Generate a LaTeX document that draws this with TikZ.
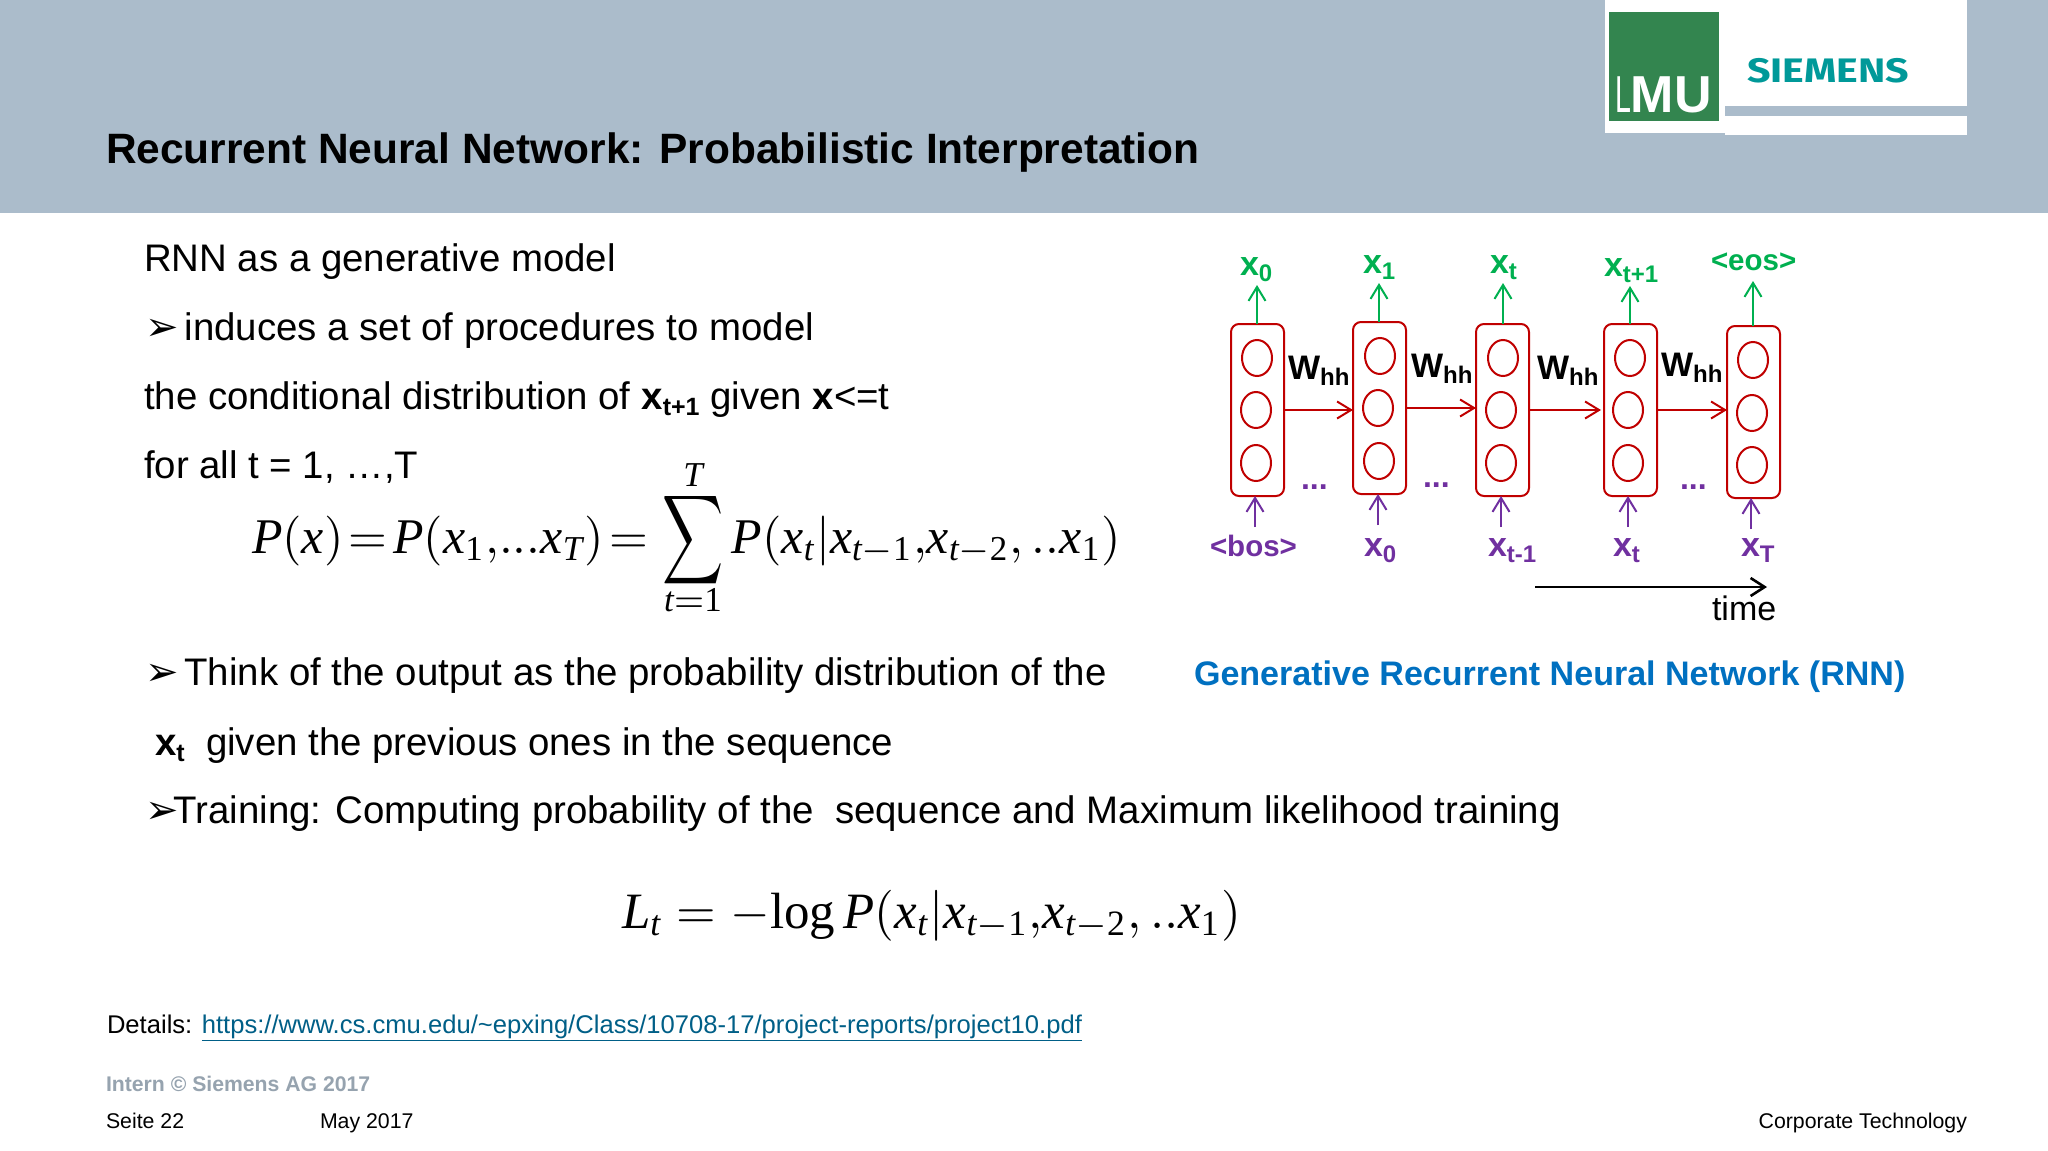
\documentclass[tikz,border=0pt]{standalone}
\usepackage{mathspec}
\setmainfont{Liberation Sans}
\setmathsfont(Latin,Digits)[Scale=1]{Liberation Serif}
\setmathrm{Liberation Serif}
\newfontfamily\djfont{DejaVu Sans}
\newfontfamily\logofont{Fira Sans}
\usepackage{graphicx}
\usetikzlibrary{arrows.meta,shapes.geometric}
\definecolor{bandc}{HTML}{ABBCCB}
\definecolor{redc}{HTML}{C00000}
\definecolor{greenc}{HTML}{00B050}
\definecolor{purc}{HTML}{7030A0}
\definecolor{logog}{HTML}{33854F}
\definecolor{siem}{HTML}{009999}
\definecolor{bluec}{HTML}{0070C0}
\definecolor{linkc}{HTML}{005F87}
\definecolor{grayc}{HTML}{96A3AF}
\newcommand{\fsz}[1]{\fontsize{#1}{#1}\selectfont}
\newcommand{\bsub}[2]{\textbf{#1}\raisebox{-6pt}{\fsz{24}\textbf{#2}}}
\newcommand{\bsubm}[2]{\textbf{#1}\raisebox{-6pt}{\fsz{25}\textbf{#2}}}
\newcommand{\arrb}{{\djfont\fsz{40}\bfseries ➢}}
\newcommand{\bigsum}{\mathop{\vcenter{\hbox{\scalebox{0.85}[1.25]{$\displaystyle\sum$}}}}\limits}
\tikzset{
  x=1pt,y=-1pt,
  txt/.style={anchor=base west,inner sep=0pt,outer sep=0pt},
  body/.style={txt,font=\fsz{38.4}},
  small/.style={txt,font=\fsz{21.3}},
  lab/.style={txt,font=\fsz{34}\bfseries},
  dotstyle/.style={txt,text=purc,font=\fsz{32}\bfseries},
  rnnbox/.style={draw=redc,line width=2pt,rounded corners=8pt,minimum width=53pt,minimum height=172pt,inner sep=0pt,outer sep=0pt},
  unit/.style={draw=redc,line width=2pt,ellipse,minimum width=30pt,minimum height=36pt,inner sep=0pt},
  barb/.style={-{Straight Barb[length=14pt,width=17pt,line width=2pt]}},
  redarr/.style={barb,draw=redc,line width=2pt},
  grnarr/.style={barb,draw=greenc,line width=2pt},
  purarr/.style={barb,draw=purc,line width=2pt},
}
\begin{document}
\begin{tikzpicture}
\useasboundingbox (0,0) rectangle (2048,1151);
\fill[white] (0,0) rectangle (2048,1151);
\fill[bandc] (0,0) rectangle (2048,213);
% logo panel
\fill[white] (1605,0) rectangle (1725,133);
\fill[white] (1725,0) rectangle (1967,106);
\fill[white] (1725,116) rectangle (1967,135);
\fill[logog] (1609,12) rectangle (1719,121);
\node[txt,text=white,font=\fsz{52}] (lmu) at (1615,112) {\scalebox{0.55}[1]{L}\textbf{MU}};
\node[txt,text=siem,font=\logofont\fsz{34}\bfseries] (siemens) at (1747,82) {\scalebox{1.21}[1]{SIEMENS}};
% title
\node[txt,font=\fsz{42.45}\bfseries] (title) at (106,163) {Recurrent Neural Network: Probabilistic Interpretation};
% left text
\node[body] (t1) at (144,271) {RNN as a generative model};
\node[body] (t2) at (145,340) {\arrb\hspace{6pt}induces a set of procedures to model};
\node[body] (t3) at (144,409) {the conditional distribution of \bsubm{x}{t+1} given \textbf{x}<=t};
\node[body] (t4) at (144,478) {for all t = 1, …,T};
\node[txt] (eq1) at (252,553) {\resizebox{869pt}{!}{$\displaystyle P(x)\!=\!P(x_1,\!...x_T)\!=\bigsum_{\smash{\raisebox{1.8pt}{$\scriptstyle t=1$}}}^{\smash{\raisebox{-1.2pt}{$\scriptstyle T$}}}P(x_t|x_{t-1},\!x_{t-2},..x_1)$}};
\node[body] (t5) at (145,685) {\arrb\hspace{6pt}Think of the output as the probability distribution of the};
\node[body] (t6) at (155,755) {\bsubm{x}{t}\ \ given the previous ones in the sequence};
\node[body] (t7) at (145,823) {\arrb\hspace{-5pt}Training: Computing probability of the\ \ sequence and Maximum likelihood training};
\node[txt] (eq2) at (622,928) {\resizebox{619pt}{!}{$\displaystyle L_t=-\!\log P(x_t|x_{t-1},\!x_{t-2},..x_1)$}};
% footer
\node[small,font=\fsz{25.6}] (det) at (107,1033) {Details: \textcolor{linkc}{\underline{https://www.cs.cmu.edu/\string~epxing/Class/10708-17/project-reports/project10.pdf}}};
\node[small,text=grayc,font=\fsz{21.2}\bfseries] (intern) at (106,1091) {Intern © Siemens AG 2017};
\node[small] (seite) at (106,1128) {Seite 22};
\node[small] (may) at (320,1128) {May 2017};
\node[small,anchor=base east] (corp) at (1967,1128) {Corporate Technology};
% RNN boxes
\node[rnnbox] (b1) at (1257.5,410) {};
\node[rnnbox] (b2) at (1379.5,408) {};
\node[rnnbox] (b3) at (1502.5,410) {};
\node[rnnbox] (b4) at (1630.5,410) {};
\node[rnnbox] (b5) at (1753.5,412) {};
\node[unit] (c11) at (1257,358) {}; \node[unit] (c12) at (1256,410) {}; \node[unit] (c13) at (1256,463) {};
\node[unit] (c21) at (1380,356) {}; \node[unit] (c22) at (1378,408) {}; \node[unit] (c23) at (1379,461) {};
\node[unit] (c31) at (1503,358) {}; \node[unit] (c32) at (1501,410) {}; \node[unit] (c33) at (1501,463) {};
\node[unit] (c41) at (1630,358) {}; \node[unit] (c42) at (1628,410) {}; \node[unit] (c43) at (1628,463) {};
\node[unit] (c51) at (1753,360) {}; \node[unit] (c52) at (1752,413) {}; \node[unit] (c53) at (1752,465) {};
\draw[redarr] (b1.east) -- (b2.west |- b1.east);
\draw[redarr] (b2.east) -- (b3.west |- b2.east);
\draw[redarr] (b3.east) -- ([xshift=-3pt]b4.west |- b3.east);
\draw[redarr] (b4.east) -- (b5.west |- b4.east);
% free ends
\coordinate (g1) at (1257,285); \coordinate (g2) at (1379,283); \coordinate (g3) at (1503,283); \coordinate (g4) at (1630,286); \coordinate (g5) at (1753,281);
\coordinate (p1) at (1255,527); \coordinate (p2) at (1378,525); \coordinate (p3) at (1501,527); \coordinate (p4) at (1628,527); \coordinate (p5) at (1751,529);
\foreach \i in {1,...,5}{
  \draw[grnarr] (b\i.north -| g\i) -- (g\i);
  \draw[purarr] (p\i) -- (b\i.south -| p\i);
}
% Whh labels
\node[lab] (w1) at (1288,379) {\bsub{W}{hh}};
\node[lab] (w2) at (1411,377) {\bsub{W}{hh}};
\node[lab] (w3) at (1537,379) {\bsub{W}{hh}};
\node[lab] (w4) at (1661,376) {\bsub{W}{hh}};
% outputs
\node[lab,text=greenc] (o1) at (1240,275) {\bsub{x}{0}};
\node[lab,text=greenc] (o2) at (1363,273) {\bsub{x}{1}};
\node[lab,text=greenc] (o3) at (1490,273) {\bsub{x}{t}};
\node[lab,text=greenc] (o4) at (1604,276) {\bsub{x}{t+1}};
\node[lab,text=greenc,font=\fsz{29.5}\bfseries] (o5) at (1711,270) {<eos>};
% inputs
\node[lab,text=purc,font=\fsz{29.5}\bfseries] (i1) at (1210,556) {<bos>};
\node[lab,text=purc] (i2) at (1364,556) {\bsub{x}{0}};
\node[lab,text=purc] (i3) at (1488,556) {\bsub{x}{t-1}};
\node[lab,text=purc] (i4) at (1613,556) {\bsub{x}{t}};
\node[lab,text=purc] (i5) at (1741,556) {\bsub{x}{T}};
% dots
\node[dotstyle] (d1) at (1301,489) {...};
\node[dotstyle] (d2) at (1423,487) {...};
\node[dotstyle] (d3) at (1680,489) {...};
% time
\coordinate (ts) at (1535,587); \coordinate (te) at (1767,587);
\draw[-{Straight Barb[length=14pt,width=18pt,line width=2.6pt]},line width=2.6pt] (ts) -- (te);
\node[txt,font=\fsz{34}] (time) at (1712,620) {time};
\node[txt,text=bluec,font=\fsz{34.05}\bfseries] (cap) at (1194,685) {Generative Recurrent Neural Network (RNN)};
\end{tikzpicture}
\end{document}
